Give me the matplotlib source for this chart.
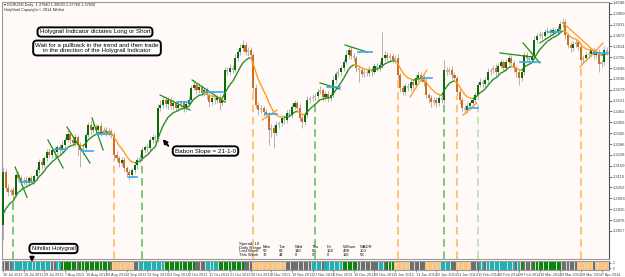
import matplotlib
matplotlib.use("Agg")
import matplotlib.pyplot as plt
import numpy as np
from matplotlib.collections import LineCollection

plt.rcParams['font.family'] = ['Liberation Sans', 'DejaVu Sans']

# ---------------- data (EURUSD daily) ----------------
first_open = 1.2849
closes = [
    1.3135, 1.3049, 1.3027, 1.3038, 1.3011, 1.3119, 1.3103, 1.3081, 1.3092, 1.3076,
    1.3103, 1.3087, 1.3114, 1.3146, 1.3189, 1.3173, 1.3211, 1.3243, 1.3227, 1.3254,
    1.3243, 1.3270, 1.3254, 1.3281, 1.3308, 1.3340, 1.3308, 1.3292, 1.3324, 1.3281,
    1.3254, 1.3265, 1.3335, 1.3389, 1.3362, 1.3378, 1.3362, 1.3384, 1.3351, 1.3362,
    1.3346, 1.3357, 1.3335, 1.3227, 1.3211, 1.3184, 1.3200, 1.3157, 1.3135, 1.3119,
    1.3146, 1.3173, 1.3200, 1.3211, 1.3254, 1.3270, 1.3265, 1.3308, 1.3324, 1.3313,
    1.3481, 1.3497, 1.3524, 1.3502, 1.3524, 1.3492, 1.3508, 1.3481, 1.3497, 1.3508,
    1.3481, 1.3502, 1.3524, 1.3589, 1.3605, 1.3578, 1.3594, 1.3562, 1.3578, 1.3551,
    1.3513, 1.3535, 1.3524, 1.3540, 1.3508, 1.3524, 1.3686, 1.3675, 1.3697, 1.3686,
    1.3751, 1.3783, 1.3805, 1.3821, 1.3783, 1.3794, 1.3767, 1.3589, 1.3497, 1.3470,
    1.3481, 1.3459, 1.3443, 1.3362, 1.3373, 1.3346, 1.3389, 1.3400, 1.3427, 1.3416,
    1.3454, 1.3443, 1.3486, 1.3508, 1.3481, 1.3427, 1.3405, 1.3443, 1.3524, 1.3535,
    1.3540, 1.3546, 1.3567, 1.3578, 1.3540, 1.3556, 1.3535, 1.3551, 1.3632, 1.3664,
    1.3675, 1.3697, 1.3729, 1.3767, 1.3794, 1.3762, 1.3751, 1.3697, 1.3686, 1.3664,
    1.3675, 1.3670, 1.3686, 1.3675, 1.3708, 1.3697, 1.3713, 1.3751, 1.3767, 1.3751,
    1.3762, 1.3740, 1.3751, 1.3659, 1.3589, 1.3567, 1.3600, 1.3589, 1.3621, 1.3605,
    1.3643, 1.3659, 1.3643, 1.3621, 1.3551, 1.3535, 1.3513, 1.3524, 1.3508, 1.3535,
    1.3524, 1.3686, 1.3675, 1.3686, 1.3659, 1.3643, 1.3567, 1.3524, 1.3481, 1.3470,
    1.3492, 1.3508, 1.3524, 1.3551, 1.3605, 1.3621, 1.3610, 1.3632, 1.3675, 1.3686,
    1.3697, 1.3675, 1.3708, 1.3729, 1.3697, 1.3729, 1.3751, 1.3724, 1.3697, 1.3675,
    1.3643, 1.3675, 1.3767, 1.3751, 1.3740, 1.3762, 1.3848, 1.3870, 1.3880, 1.3870,
    1.3891, 1.3897, 1.3886, 1.3902, 1.3891, 1.3907, 1.3934, 1.3945, 1.3875, 1.3821,
    1.3805, 1.3826, 1.3837, 1.3810, 1.3740, 1.3751, 1.3767, 1.3772, 1.3794, 1.3767,
    1.3783, 1.3718, 1.3729, 1.3794, 1.3783,
]
# wick lengths in pips above/below the body
wick_up = [
    27, 15, 20, 12, 18, 10, 22, 14, 16, 20,  12, 18, 10, 14, 16, 20, 12, 15, 22, 14,
    18, 12, 16, 20, 14, 22, 12, 18, 15, 10,  16, 20, 12, 18, 22, 14, 16, 12, 20, 15,
    18, 14, 12, 16, 20, 12, 18, 14, 10, 16,  12, 18, 14, 20, 16, 12, 22, 14, 18, 12,
    22, 27, 16, 20, 14, 18, 24, 12, 20, 16,  14, 18, 22, 16, 27, 14, 20, 12, 18, 16,
    20, 14, 18, 12, 16, 20, 14, 18, 22, 16,  20, 16, 22, 27, 14, 18, 16, 12, 20, 14,
    16, 12, 18, 14, 20, 16, 22, 12, 18, 14,  16, 20, 14, 18, 12, 22, 16, 14, 20, 12,
    18, 14, 16, 20, 12, 18, 14, 16, 20, 14,  22, 16, 18, 27, 14, 20, 16, 12, 18, 14,
    16, 12, 20, 14, 18, 16, 22, 140, 20, 16, 18, 14, 16, 20, 12, 18, 14, 16, 20, 12,
    18, 22, 14, 16, 20, 12, 18, 14, 16, 20,  14, 54, 18, 16, 20, 14, 12, 18, 14, 16,
    20, 12, 18, 14, 16, 20, 14, 18, 22, 12,  16, 20, 14, 18, 12, 16, 22, 14, 18, 12,
    16, 20, 14, 18, 12, 16, 22, 14, 18, 12,  16, 20, 14, 18, 12, 16, 14, 22, 16, 12,
    18, 14, 16, 12, 20, 14, 18, 16, 12, 18,  14, 16, 12, 20, 14,
]
wick_dn = [
    81, 16, 20, 14, 27, 12, 18, 16, 14, 20,  18, 12, 16, 22, 14, 20, 12, 18, 16, 14,
    27, 16, 20, 14, 18, 12, 22, 16, 14, 60,  90, 22, 16, 12, 20, 14, 18, 16, 22, 12,
    18, 16, 14, 20, 16, 22, 18, 14, 20, 27,  16, 14, 20, 18, 12, 16, 22, 14, 18, 16,
    14, 18, 16, 22, 27, 14, 20, 16, 18, 14,  22, 16, 14, 18, 12, 20, 16, 14, 18, 22,
    27, 16, 20, 14, 40, 18, 12, 16, 14, 18,  12, 16, 14, 18, 16, 20, 14, 22, 16, 27,
    18, 20, 14, 80, 40, 80, 16, 14, 18, 20,  14, 16, 18, 12, 20, 16, 32, 14, 18, 16,
    14, 18, 16, 12, 20, 16, 22, 14, 12, 16,  14, 18, 16, 12, 20, 14, 16, 22, 65, 14,
    18, 16, 14, 20, 12, 16, 14, 18, 16, 14,  16, 14, 18, 20, 22, 16, 14, 18, 16, 20,
    14, 16, 18, 22, 16, 27, 27, 14, 20, 16,  18, 14, 16, 12, 20, 16, 18, 22, 14, 20,
    16, 22, 14, 18, 16, 12, 20, 14, 16, 18,  14, 16, 20, 12, 18, 14, 16, 20, 22, 27,
    40, 16, 14, 18, 16, 12, 14, 16, 12, 18,  14, 12, 16, 14, 12, 16, 14, 18, 22, 16,
    20, 14, 16, 18, 22, 16, 14, 18, 16, 20,  14, 43, 16, 18, 14,
]
date_labels = [
    "10 Jul 2013", "19 Jul 2013", "29 Jul 2013", "7 Aug 2013", "16 Aug 2013",
    "26 Aug 2013", "4 Sep 2013", "13 Sep 2013", "23 Sep 2013", "2 Oct 2013",
    "11 Oct 2013", "21 Oct 2013", "30 Oct 2013", "8 Nov 2013", "18 Nov 2013",
    "27 Nov 2013", "6 Dec 2013", "16 Dec 2013", "26 Dec 2013", "3 Jan 2014",
    "13 Jan 2014", "22 Jan 2014", "31 Jan 2014", "11 Feb 2014", "20 Feb 2014",
    "28 Feb 2014", "10 Mar 2014", "19 Mar 2014", "28 Mar 2014", "7 Apr 2014",
]
bars_per_label = 8
# Holygrail strip state per bar: x gray, c cyan, g green, o orange (run lengths)
strip_runs = [
    ('x', 4), ('c', 15), ('x', 2), ('c', 2), ('g', 6), ('x', 1), ('g', 12), ('x', 1),
    ('o', 8), ('x', 2), ('c', 10), ('g', 12), ('x', 4), ('c', 5), ('g', 10), ('x', 3),
    ('o', 13), ('x', 10), ('c', 4), ('x', 1), ('c', 7), ('g', 6), ('x', 8), ('c', 2),
    ('x', 1), ('g', 3), ('o', 6), ('x', 6), ('o', 6), ('c', 4), ('x', 2), ('o', 6),
    ('x', 3), ('c', 2), ('x', 1), ('c', 11), ('x', 1), ('c', 1), ('g', 1), ('x', 4),
    ('g', 11), ('x', 6), ('o', 6), ('x', 1), ('o', 5),
]
green_signals = [4, 54, 121, 171]
orange_signals = [43, 97, 153, 176, 224]
pale_signals = [184]
# trend lines: (bar0, price0, bar1, price1, kind)
trend_lines = [
    (4.7, 1.3162, 9.3, 1.2998, 'g'), (17.4, 1.3308, 23.3, 1.3157, 'g'),
    (24.8, 1.3378, 33.7, 1.3184, 'g'), (34.5, 1.3427, 38.8, 1.3254, 'g'),
    (60.9, 1.3551, 72.5, 1.3470, 'g'), (73.3, 1.3632, 86.0, 1.3513, 'g'),
    (100.4, 1.3416, 106.2, 1.3470, 'o'), (122.9, 1.3616, 130.6, 1.3583, 'g'),
    (132.6, 1.3821, 141.1, 1.3783, 'g'), (157.8, 1.3540, 164.3, 1.3686, 'o'),
    (178.3, 1.3443, 183.7, 1.3508, 'o'), (192.6, 1.3778, 205.4, 1.3756, 'g'),
    (201.6, 1.3832, 208.1, 1.3724, 'g'), (208.1, 1.3832, 215.9, 1.3902, 'g'),
    (217.1, 1.3940, 228.7, 1.3794, 'o'), (223.6, 1.3702, 232.6, 1.3832, 'o'),
]
# short blue levels: (bar0, bar1, price)
blue_lines = [
    (6.6, 11.6, 1.3081), (20.2, 24.8, 1.3259), (30.6, 34.9, 1.3249),
    (36.4, 41.5, 1.3340), (48.4, 51.9, 1.3108), (67.4, 72.5, 1.3513),
    (77.5, 85.3, 1.3567), (101.6, 106.2, 1.3448), (125.6, 130.6, 1.3594),
    (137.6, 143.0, 1.3783), (162.4, 166.3, 1.3643), (180.2, 184.1, 1.3481),
    (200.4, 208.1, 1.3729), (211.2, 215.9, 1.3891), (228.7, 234.5, 1.3778),
]
spread = 19
table_cols = ["Mon", "Tue", "Wed", "Thu", "Fri", "W/Sum", "WADR"]
last_week = [58, 83, 140, 89, 128, 498, 100]
this_week = [72, 44, 0, 0, 0, 116, 58]
ma_span = 9
y_tick_top, y_tick_step, n_yticks = 1.4048, 0.00586, 22

# ---------------- figure ----------------
W, H = 625, 277
fig = plt.figure(figsize=(W / 100, H / 100), dpi=100)
fig.patch.set_facecolor('white')


def rect(x0, y0, x1, y1):
    return [x0 / W, 1 - y1 / H, (x1 - x0) / W, (y1 - y0) / H]


BG = '#fffaf7'
MAIN_BOTTOM = 259
ax = fig.add_axes(rect(2, 2, 609, MAIN_BOTTOM))
axs = fig.add_axes(rect(2, 261, 609, 270))
for a in (ax, axs):
    a.set_facecolor(BG)
    for s in a.spines.values():
        s.set_color('#9a9a9a')
        s.set_linewidth(0.8)
    a.spines['right'].set_color('#505050')

c = np.array(closes)
n = len(c)
o = np.concatenate([[first_open], c[:-1]])
hi = np.maximum(o, c) + np.array(wick_up[:n]) * 1e-4
lo = np.minimum(o, c) - np.array(wick_dn[:n]) * 1e-4
idx = np.arange(n)

# price scale: 0.000540 per pixel, pixel 2 at the top
ppx = 0.00054
yhi = 1.4064 - ppx * 2
ylo = 1.4064 - ppx * MAIN_BOTTOM
xlo, xhi = -0.39, 234.9
ax.set_xlim(xlo, xhi)
ax.set_ylim(ylo, yhi)

# candles
ax.vlines(idx, lo, hi, color='#a8a8a8', lw=0.6, zorder=2)
body = c - o
colors = np.where(np.abs(body) < 0.0012, '#b8b8b8',
                  np.where(body > 0, '#0c6a0c', '#cf6e1f'))
heights = np.maximum(np.abs(body), 0.00015)
ax.bar(idx, heights, width=0.8, bottom=np.minimum(o, c), color=colors,
       edgecolor='none', zorder=3)

# Holygrail moving average coloured by slope
alpha = 2.0 / (ma_span + 1)
ma = np.empty(n)
m = first_open
for i, v in enumerate(c):
    m = m + alpha * (v - m)
    ma[i] = m
segs = [[(i - 1, ma[i - 1]), (i, ma[i])] for i in range(1, n)]
segcols = ['#1f8f1f' if ma[i] >= ma[i - 1] else '#ff9a1e' for i in range(1, n)]
ax.add_collection(LineCollection(segs, colors=segcols, linewidths=1.0, zorder=4))

# trend lines and blue levels
for b0, p0, b1, p1, k in trend_lines:
    ax.plot([b0, b1], [p0, p1], color='#1f8f1f' if k == 'g' else '#ff9a1e',
            lw=0.9, zorder=4)
for b0, b1, p in blue_lines:
    ax.plot([b0, b1], [p, p], color='#3aa6f2', lw=1.2, zorder=5)

# signal dashed lines
for sig, col in ((green_signals, '#5cb85c'), (orange_signals, '#ffb454'),
                 (pale_signals, '#b9d9b9')):
    for i in sig:
        ax.vlines(i, ylo, lo[i], colors=col, linestyles=(0, (5, 3)), lw=1.1, zorder=1)

# price axis on the right
ax.yaxis.tick_right()
yt = [y_tick_top - y_tick_step * k for k in range(n_yticks)]
ax.set_yticks(yt)
ax.set_yticklabels([f"{v:.4f}" for v in yt])
ax.tick_params(axis='y', labelsize=3, colors='#444444', length=2, width=0.5, pad=1)
ax.set_xticks([])

# strip sub-window
col_map = {'x': '#6e6e6e', 'c': '#1bb3b3', 'g': '#0d860d', 'o': '#ffc477'}
states = []
for s, k in strip_runs:
    states += [s] * k
states = states[:n]
axs.set_facecolor('#d9d9d9')
axs.bar(idx[:len(states)], 1, width=0.8, bottom=0,
        color=[col_map[s] for s in states], edgecolor='none')
axs.set_xlim(xlo, xhi)
axs.set_ylim(0, 1)
axs.yaxis.tick_right()
axs.set_yticks([0.8, 0.2])
axs.set_yticklabels(['1', '0'])
axs.tick_params(axis='y', labelsize=2.5, colors='#444444', length=1.5, width=0.4, pad=1)
xt = [k * bars_per_label for k in range(len(date_labels))]
axs.set_xticks(xt)
axs.set_xticklabels(date_labels, ha='left')
axs.tick_params(axis='x', labelsize=2.7, colors='#444444', length=1.5, width=0.4, pad=0.5)

# ---------------- overlay annotations ----------------
ov = fig.add_axes([0, 0, 1, 1], zorder=10)
ov.set_xlim(0, W)
ov.set_ylim(H, 0)
ov.axis('off')
ov.patch.set_alpha(0)

ov.text(4, 3, "\u25be EURUSD,Daily  1.37940 1.38020 1.37760 1.37830", fontsize=2.8,
        va='top', color='#222222')
ov.text(4, 8, "HolyGrail Copyright \u00a9 2014 Nihilist", fontsize=2.8, va='top',
        color='#222222')

box = dict(boxstyle='round,pad=0.35,rounding_size=0.6', fc='white', ec='black', lw=1.4)
ov.text(95, 32, "Holygrail Indicator dictates Long or Short", fontsize=4.4,
        ha='center', va='center', bbox=box)
ov.text(97, 48, "Wait for a pullback in the trend and then trade\n"
        "in the direction of the Holygrail Indicator", fontsize=4.4,
        ha='center', va='center', linespacing=1.15, bbox=box)
ov.text(205.5, 151, "Babon Slope = 21-1-0", fontsize=4.5, ha='center', va='center',
        bbox=box)
ov.annotate('', xy=(161, 137), xytext=(170, 148),
            arrowprops=dict(arrowstyle='-|>', color='black', lw=1.4, mutation_scale=6))
ov.text(53.5, 248.5, "Nihilist Holygrail", fontsize=4.4, ha='center', va='center',
        bbox=box)
ov.annotate('', xy=(32, 265), xytext=(32, 254),
            arrowprops=dict(arrowstyle='-|>', color='black', lw=1.4, mutation_scale=6))

# spread / daily range table
tx0 = 239
col_x = [263, 279, 295, 312, 327, 343, 360]
ts = dict(fontsize=3, color='#111111', va='center')
ov.text(tx0, 243.5, f"Spread: {spread}", **ts)
ov.text(tx0, 247.5, "Daily Range", **ts)
ov.text(tx0, 251.5, "Last Week", **ts)
ov.text(tx0, 255.5, "This Week", **ts)
for x, h, a, b in zip(col_x, table_cols, last_week, this_week):
    ov.text(x, 247.5, h, **ts)
    ov.text(x, 251.5, str(a), **ts)
    ov.text(x, 255.5, str(b), **ts)

fig.savefig('out.png', dpi=100, facecolor='white')
